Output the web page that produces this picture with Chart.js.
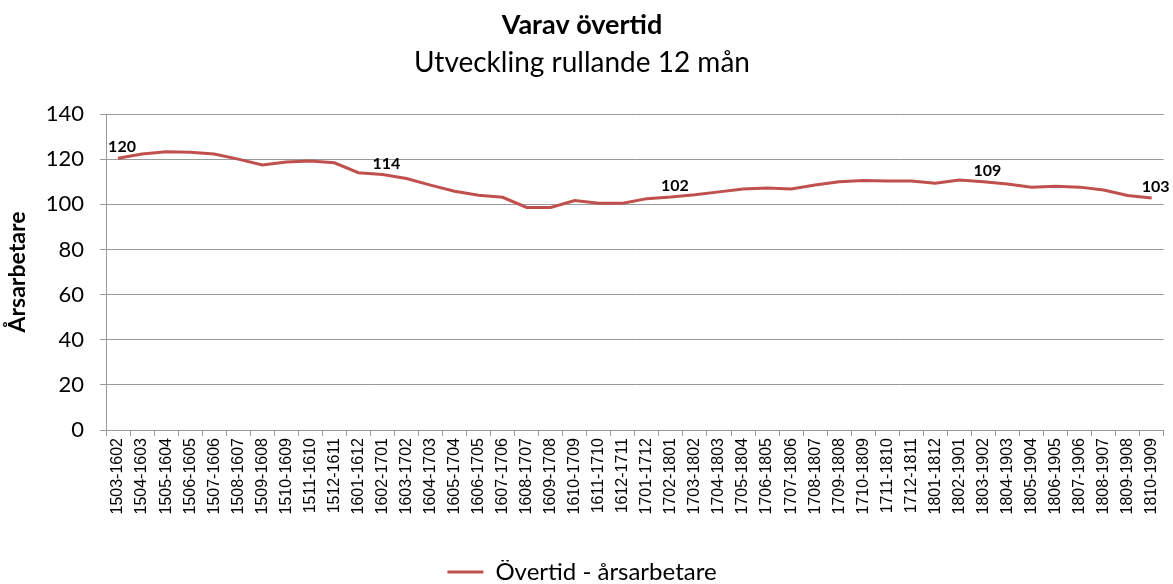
<!DOCTYPE html>
<html>
    <head>
        <title>Varav övertid</title>
        <meta charset="UTF-8">
        <script src="https://cdn.jsdelivr.net/npm/chart.js@4.4.0/dist/chart.umd.min.js"></script>
        <style>
            body { margin: 0; background: #fff; }
            .chartBox { width: 1173px; height: 584px; }
        </style>
    </head>
    <body>
        <div class='chartBox'><canvas id='myChart'></canvas></div>
        <script>
            // rullande 12 mån perioder
            let periods = [
                '1503-1602', '1504-1603', '1505-1604', '1506-1605', '1507-1606', '1508-1607',
                '1509-1608', '1510-1609', '1511-1610', '1512-1611', '1601-1612', '1602-1701',
                '1603-1702', '1604-1703', '1605-1704', '1606-1705', '1607-1706', '1608-1707',
                '1609-1708', '1610-1709', '1611-1710', '1612-1711', '1701-1712', '1702-1801',
                '1703-1802', '1704-1803', '1705-1804', '1706-1805', '1707-1806', '1708-1807',
                '1709-1808', '1710-1809', '1711-1810', '1712-1811', '1801-1812', '1802-1901',
                '1803-1902', '1804-1903', '1805-1904', '1806-1905', '1807-1906', '1808-1907',
                '1809-1908', '1810-1909'
            ];

            let overtid = [
                120.4, 122.3, 123.3, 123.0, 122.3, 120.0, 117.4, 118.7, 119.2, 118.4, 114.0,
                113.2, 111.4, 108.5, 105.8, 104.0, 103.1, 98.6, 98.6, 101.7, 100.5, 100.5,
                102.5, 103.2, 104.2, 105.5, 106.8, 107.2, 106.8, 108.5, 110.0, 110.5, 110.3,
                110.3, 109.3, 110.8, 110.0, 109.0, 107.6, 108.0, 107.6, 106.3, 103.9, 102.8
            ];

            // etiketter som visas i diagrammet (null = ingen etikett)
            let pointLabels = [
                '120', null, null, null, null, null, null, null, null, null, null,
                '114', null, null, null, null, null, null, null, null, null, null,
                null, '102', null, null, null, null, null, null, null, null, null,
                null, null, null, '109', null, null, null, null, null, null, '103'
            ];

            let yTicks = [0, 20, 40, 60, 80, 100, 120, 140];

            let lineColour = '#c0504d';
            let gridColour = '#9a9a9a';

            // draws the few value labels above the line
            let pointLabelPlugin = {
                id: 'pointLabels',
                afterDatasetsDraw(chart) {
                    let ctx = chart.ctx;
                    let meta = chart.getDatasetMeta(0);
                    ctx.save();
                    ctx.font = 'bold 16px Lato';
                    ctx.fillStyle = '#000';
                    ctx.textAlign = 'center';
                    ctx.textBaseline = 'bottom';
                    meta.data.forEach((pt, i) => {
                        if (pointLabels[i] !== null) {
                            ctx.fillText(pointLabels[i], pt.x + 4, pt.y - 3);
                        }
                    });
                    ctx.restore();
                }
            };

            let ctx = document.getElementById('myChart').getContext('2d');
            var chart = new Chart(ctx, {
                type: 'line',
                data: {
                    labels: periods,
                    datasets: [{
                        label: 'Övertid - årsarbetare',
                        data: overtid,
                        borderColor: lineColour,
                        backgroundColor: lineColour,
                        borderWidth: 3,
                        pointRadius: 0,
                        tension: 0
                    }]
                },
                options: {
                    responsive: true,
                    maintainAspectRatio: false,
                    animation: false,
                    layout: {
                        padding: { left: 0, right: 9, top: 0, bottom: -10 }
                    },
                    plugins: {
                        title: {
                            display: true,
                            text: 'Varav övertid',
                            color: '#000',
                            font: { family: 'Lato', size: 27, weight: 'bold' },
                            padding: { top: 9, bottom: 2 }
                        },
                        subtitle: {
                            display: true,
                            text: 'Utveckling rullande 12 mån',
                            color: '#000',
                            font: { family: 'Lato', size: 28 },
                            padding: { top: 3, bottom: 34 }
                        },
                        legend: {
                            position: 'bottom',
                            labels: {
                                color: '#000',
                                font: { family: 'Lato', size: 24 },
                                boxWidth: 36,
                                boxHeight: 3,
                                padding: 0,
                                generateLabels: function (c) {
                                    let items = Chart.defaults.plugins.legend.labels.generateLabels(c);
                                    items.forEach(it => { it.lineWidth = 0; it.fillStyle = lineColour; });
                                    return items;
                                }
                            }
                        },
                        tooltip: { enabled: false }
                    },
                    scales: {
                        x: {
                            offset: true,
                            grid: {
                                offset: true,
                                drawOnChartArea: false,
                                drawTicks: true,
                                tickLength: 6,
                                color: gridColour
                            },
                            border: { color: gridColour },
                            ticks: {
                                autoSkip: false,
                                minRotation: 90,
                                maxRotation: 90,
                                padding: 2,
                                color: '#000',
                                font: { family: "'Liberation Sans', Arial, sans-serif", size: 16 }
                            },
                            afterFit: function (scale) {
                                scale.height = 130;
                            }
                        },
                        y: {
                            min: 0,
                            max: 140,
                            afterBuildTicks: function (scale) {
                                scale.ticks = yTicks.map(v => ({ value: v }));
                            },
                            grid: {
                                color: gridColour,
                                drawTicks: true,
                                tickLength: 6
                            },
                            border: { color: gridColour },
                            ticks: {
                                padding: 16,
                                color: '#000',
                                font: { family: 'Lato', size: 22 }
                            },
                            title: {
                                display: true,
                                text: 'Årsarbetare',
                                color: '#000',
                                font: { family: 'Lato', size: 23, weight: 'bold' },
                                padding: { top: 4, bottom: 0 }
                            },
                            afterFit: function (scale) {
                                scale.width = 106;
                            }
                        }
                    }
                },
                plugins: [pointLabelPlugin]
            });
        </script>
    </body>
</html>
